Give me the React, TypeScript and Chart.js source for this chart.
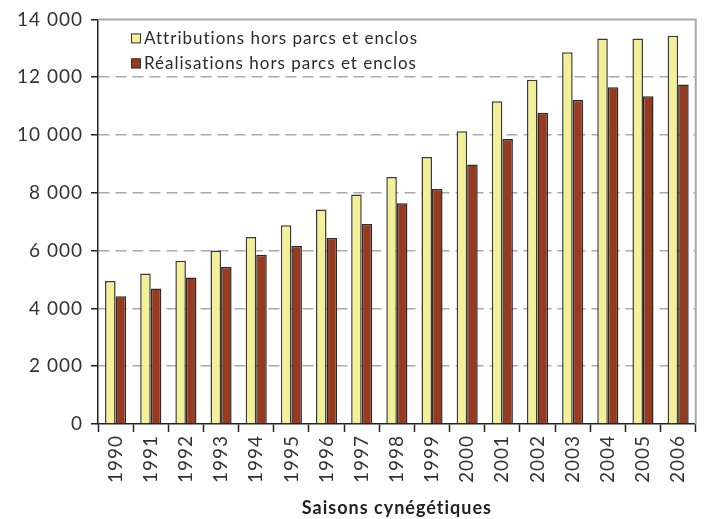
import React, { useEffect, useRef } from "react";
import { Chart, registerables } from "chart.js";

Chart.register(...registerables);

const seasons = ["1990","1991","1992","1993","1994","1995","1996","1997","1998","1999","2000","2001","2002","2003","2004","2005","2006"];
const attributions = [4950, 5210, 5650, 6000, 6470, 6880, 7420, 7940, 8550, 9240, 10130, 11170, 11910, 12860, 13340, 13340, 13430];
const realisations = [4420, 4690, 5070, 5430, 5860, 6170, 6440, 6920, 7640, 8130, 8980, 9860, 10770, 11210, 11650, 11340, 11750];
const seriesLabels = ["Attributions hors parcs et enclos", "Réalisations hors parcs et enclos"];
const yMin = 0;
const yMax = 14000;
const yStep = 2000;
const xTitle = "Saisons cynégétiques";

const FONT = "Lato, 'Open Sans', sans-serif";
const YELLOW = "#F4F097";
const RED = "#973A20";

const fmt = (v: number) => String(v).replace(/\B(?=(\d{3})+(?!\d))/g, " ");

const spacing = {
  id: "spacing",
  beforeUpdate(chart: any) { chart.ctx.letterSpacing = "1px"; },
  beforeLayout(chart: any) { chart.ctx.letterSpacing = "1px"; },
  beforeDraw(chart: any) { chart.ctx.letterSpacing = "1px"; },
};

const frame = {
  id: "frame",
  afterDraw(chart: any) {
    const { ctx, chartArea } = chart;
    ctx.save();
    ctx.strokeStyle = "#aaaaaa";
    ctx.lineWidth = 2;
    ctx.beginPath();
    ctx.moveTo(chartArea.left, chartArea.top);
    ctx.lineTo(chartArea.right, chartArea.top);
    ctx.lineTo(chartArea.right, chartArea.bottom);
    ctx.stroke();
    // legend inside plot area
    const ds = chart.data.datasets;
    ctx.font = `17px ${FONT}`;
    ctx.textBaseline = "middle";
    ds.forEach((d: any, i: number) => {
      const x = chartArea.left + 33;
      const y = chartArea.top + 19 + i * 25;
      ctx.fillStyle = d.backgroundColor;
      ctx.strokeStyle = "#333";
      ctx.lineWidth = 1;
      ctx.fillRect(x, y - 5, 10, 10);
      ctx.strokeRect(x + 0.5, y - 4.5, 9, 9);
      ctx.fillStyle = "#2a2a2a";
      ctx.fillText(d.label, x + 13, y);
    });
    ctx.restore();
  },
};

export default function App() {
  const ref = useRef<HTMLCanvasElement>(null);
  useEffect(() => {
    document.body.style.margin = "0";
    const chart = new Chart(ref.current!, {
      type: "bar",
      data: {
        labels: seasons,
        datasets: [
          { label: seriesLabels[0], data: attributions, backgroundColor: YELLOW, borderColor: "#3a3a3a", borderWidth: 1.5 },
          { label: seriesLabels[1], data: realisations, backgroundColor: RED, borderColor: "#2a2a2a", borderWidth: 1.5 },
        ],
      },
      options: {
        animation: false,
        responsive: false,
        maintainAspectRatio: false,
        layout: { padding: { top: 18, right: 2, left: 0, bottom: 0 } },
        datasets: { bar: { categoryPercentage: 0.6, barPercentage: 1.0 } },
        plugins: { legend: { display: false }, tooltip: { enabled: false } },
        scales: {
          x: {
            grid: { display: true, offset: true, drawOnChartArea: false, drawTicks: true, tickLength: 8, tickColor: "#222", tickWidth: 1.5 },
            border: { display: true, color: "#222", width: 1.5 },
            ticks: { minRotation: 90, maxRotation: 90, padding: 3, color: "#333", font: { family: FONT, size: 19 } },
            title: { display: true, text: xTitle, color: "#222", font: { family: FONT, size: 18, weight: "bold" }, padding: { top: 2, bottom: 0 } },
            afterFit: (s: any) => { s.height = 95; },
          },
          y: {
            min: yMin,
            max: yMax,
            ticks: { stepSize: yStep, color: "#333", padding: 8, font: { family: FONT, size: 19 }, callback: (v: any) => fmt(Number(v)) },
            grid: {
              color: (c: any) => (c.tick && (c.tick.value === yMin || c.tick.value === yMax) ? "rgba(0,0,0,0)" : "#aaaaaa"),
              lineWidth: 1.5,
              drawTicks: true,
              tickLength: 7,
              tickColor: "#222",
              tickWidth: 1.5,
            },
            border: { display: true, color: "#222", width: 1.5, dash: [11, 6] },
            afterFit: (s: any) => { s.width = 98; },
          },
        },
      },
      plugins: [spacing, frame],
    });
    return () => chart.destroy();
  }, []);
  return <canvas ref={ref} width={704} height={519} style={{ display: "block" }} />;
}
